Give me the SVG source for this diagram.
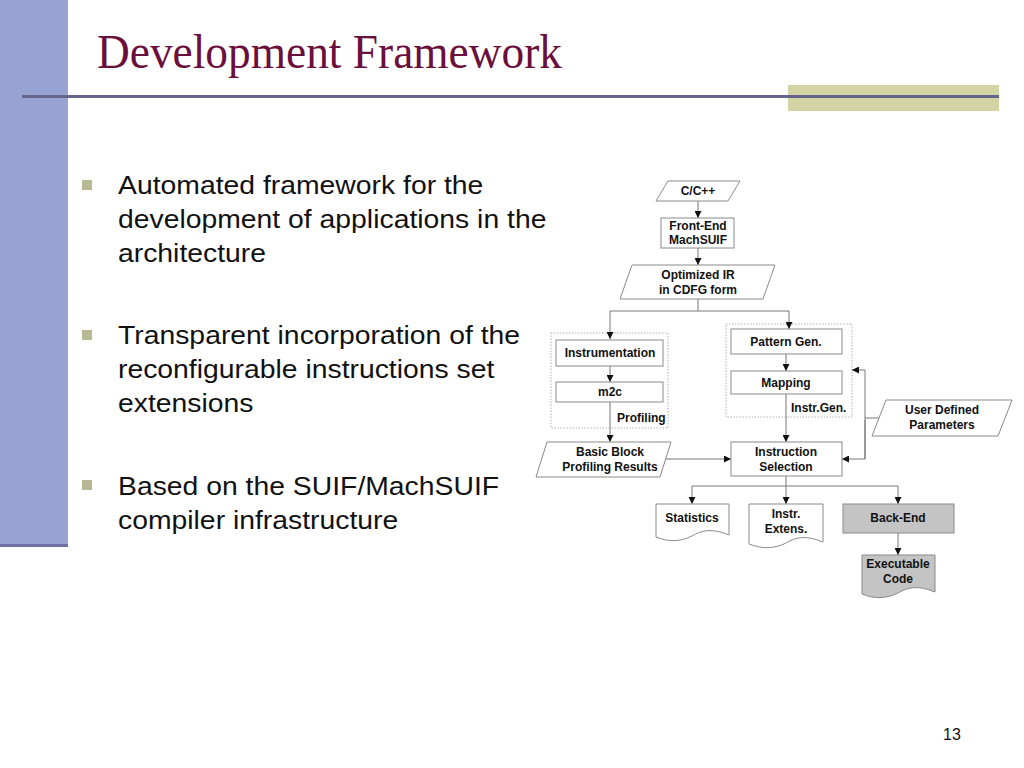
<svg xmlns="http://www.w3.org/2000/svg" width="1024" height="768" viewBox="0 0 1024 768">
<defs>
<marker id="ah" viewBox="0 0 10 10" refX="10" refY="5" markerWidth="7" markerHeight="7" markerUnits="userSpaceOnUse" orient="auto">
<path d="M0,0 L10,5 L0,10 Z" fill="#111"/>
</marker>
<style>
.nd{fill:#fff;stroke:#8a8a8a;stroke-width:1}
.gr{fill:#c4c4c4;stroke:#8a8a8a;stroke-width:1}
.grp{fill:none;stroke:#b0b0b0;stroke-width:1;stroke-dasharray:1.5,1.5}
.t{font-family:"Liberation Sans",Arial,sans-serif;font-weight:bold;font-size:12px;fill:#111;text-anchor:middle}
.ts{font-family:"Liberation Sans",Arial,sans-serif;font-weight:bold;font-size:12px;fill:#111}
.cn{fill:none;stroke:#777;stroke-width:1}
.bt{font-family:"Liberation Sans",Arial,sans-serif;font-size:26px;fill:#111}
.bl{fill:#b8b894}
</style>
</defs>
<rect width="1024" height="768" fill="#fff"/>
<!-- slide decoration -->
<rect x="0" y="0" width="68" height="545" fill="#97a3d3"/>
<rect x="0" y="544" width="68" height="3" fill="#6e6ea0"/>
<rect x="788" y="85" width="211" height="26" fill="#d3d3a3"/>
<rect x="22" y="95" width="977" height="3" fill="#66668c"/>
<text x="97" y="68" font-family="Liberation Serif,'Times New Roman',serif" font-size="48" fill="#6b0f3d" textLength="465" lengthAdjust="spacingAndGlyphs">Development Framework</text>
<!-- bullets -->
<g id="bullets">
<rect class="bl" x="82" y="180" width="10" height="10"/>
<rect class="bl" x="82" y="330" width="10" height="10"/>
<rect class="bl" x="82" y="480" width="10" height="10"/>
<g transform="translate(118,0) scale(1.09,1)">
<text class="bt" x="0" y="194">Automated framework for the</text>
<text class="bt" x="0" y="228">development of applications in the</text>
<text class="bt" x="0" y="262">architecture</text>
<text class="bt" x="0" y="344">Transparent incorporation of the</text>
<text class="bt" x="0" y="378">reconfigurable instructions set</text>
<text class="bt" x="0" y="412">extensions</text>
<text class="bt" x="0" y="495">Based on the SUIF/MachSUIF</text>
<text class="bt" x="0" y="529">compiler infrastructure</text>
</g>
</g>
<!-- groups -->
<g id="grp-profiling">
<rect class="grp" x="551" y="333" width="117" height="95"/>
<text class="ts" x="617" y="422">Profiling</text>
</g>
<g id="grp-instrgen">
<rect class="grp" x="726" y="324" width="126" height="93"/>
<text class="ts" x="791" y="412">Instr.Gen.</text>
</g>
<!-- connectors -->
<g id="connectors">
<line class="cn" x1="698" y1="201" x2="698" y2="218" marker-end="url(#ah)"/>
<line class="cn" x1="698" y1="248" x2="698" y2="265" marker-end="url(#ah)"/>
<polyline class="cn" points="698,299 698,311 610,311 610,339" marker-end="url(#ah)"/>
<polyline class="cn" points="698,311 789,311 789,329" marker-end="url(#ah)"/>
<line class="cn" x1="610" y1="366" x2="610" y2="382" marker-end="url(#ah)"/>
<line class="cn" x1="610" y1="402" x2="610" y2="442" marker-end="url(#ah)"/>
<line class="cn" x1="786" y1="354" x2="786" y2="371" marker-end="url(#ah)"/>
<line class="cn" x1="786" y1="394" x2="786" y2="442" marker-end="url(#ah)"/>
<line class="cn" x1="665" y1="459" x2="731" y2="459" marker-end="url(#ah)"/>
<polyline class="cn" points="879,418 865,418"/>
<polyline class="cn" points="865,459 865,370 852,370" marker-end="url(#ah)"/>
<polyline class="cn" points="865,420 865,459 842,459" marker-end="url(#ah)"/>
<polyline class="cn" points="786,476 786,486 692,486 692,504" marker-end="url(#ah)"/>
<line class="cn" x1="786" y1="486" x2="786" y2="504" marker-end="url(#ah)"/>
<polyline class="cn" points="786,486 898,486 898,504" marker-end="url(#ah)"/>
<line class="cn" x1="898" y1="533" x2="898" y2="555" marker-end="url(#ah)"/>
</g>
<!-- nodes -->
<g id="n-cpp">
<polygon class="nd" points="668,181 740,181 728,201 656,201"/>
<text class="t" x="698" y="195">C/C++</text>
</g>
<g id="n-frontend">
<rect class="nd" x="661" y="218" width="73" height="30"/>
<text class="t" x="698" y="230">Front-End</text>
<text class="t" x="698" y="244">MachSUIF</text>
</g>
<g id="n-ir">
<polygon class="nd" points="632,265 775,265 763,299 620,299"/>
<text class="t" x="698" y="279">Optimized IR</text>
<text class="t" x="698" y="294">in CDFG form</text>
</g>
<g id="n-instrumentation">
<rect class="nd" x="556" y="340" width="107" height="26"/>
<text class="t" x="610" y="357">Instrumentation</text>
</g>
<g id="n-m2c">
<rect class="nd" x="556" y="382" width="107" height="20"/>
<text class="t" x="610" y="396">m2c</text>
</g>
<g id="n-bbprof">
<polygon class="nd" points="547,442 671,442 660,477 536,477"/>
<text class="t" x="610" y="456">Basic Block</text>
<text class="t" x="610" y="471">Profiling Results</text>
</g>
<g id="n-patterngen">
<rect class="nd" x="731" y="329" width="111" height="25"/>
<text class="t" x="786" y="346">Pattern Gen.</text>
</g>
<g id="n-mapping">
<rect class="nd" x="731" y="371" width="111" height="23"/>
<text class="t" x="786" y="387">Mapping</text>
</g>
<g id="n-isel">
<rect class="nd" x="731" y="442" width="111" height="34"/>
<text class="t" x="786" y="456">Instruction</text>
<text class="t" x="786" y="471">Selection</text>
</g>
<g id="n-udp">
<polygon class="nd" points="886,400 1012,400 998,436 872,436"/>
<text class="t" x="942" y="414">User Defined</text>
<text class="t" x="942" y="429">Parameters</text>
</g>
<g id="n-stats">
<path class="nd" d="M656,504 H729 V535 C712,528 702,530 692,536 C680,542 668,542 656,537 Z"/>
<text class="t" x="692" y="522">Statistics</text>
</g>
<g id="n-extens">
<path class="nd" d="M749,504 H823 V542 C806,535 796,537 786,543 C774,549 762,549 749,544 Z"/>
<text class="t" x="786" y="518">Instr.</text>
<text class="t" x="786" y="533">Extens.</text>
</g>
<g id="n-backend">
<rect class="gr" x="843" y="504" width="111" height="29"/>
<text class="t" x="898" y="522">Back-End</text>
</g>
<g id="n-exe">
<path class="gr" d="M862,555 H935 V592 C918,585 908,587 898,593 C886,599 874,599 862,594 Z"/>
<text class="t" x="898" y="568">Executable</text>
<text class="t" x="898" y="583">Code</text>
</g>
<text x="952" y="740" font-family="Liberation Sans,Arial,sans-serif" font-size="16" fill="#111" text-anchor="middle">13</text>
</svg>
